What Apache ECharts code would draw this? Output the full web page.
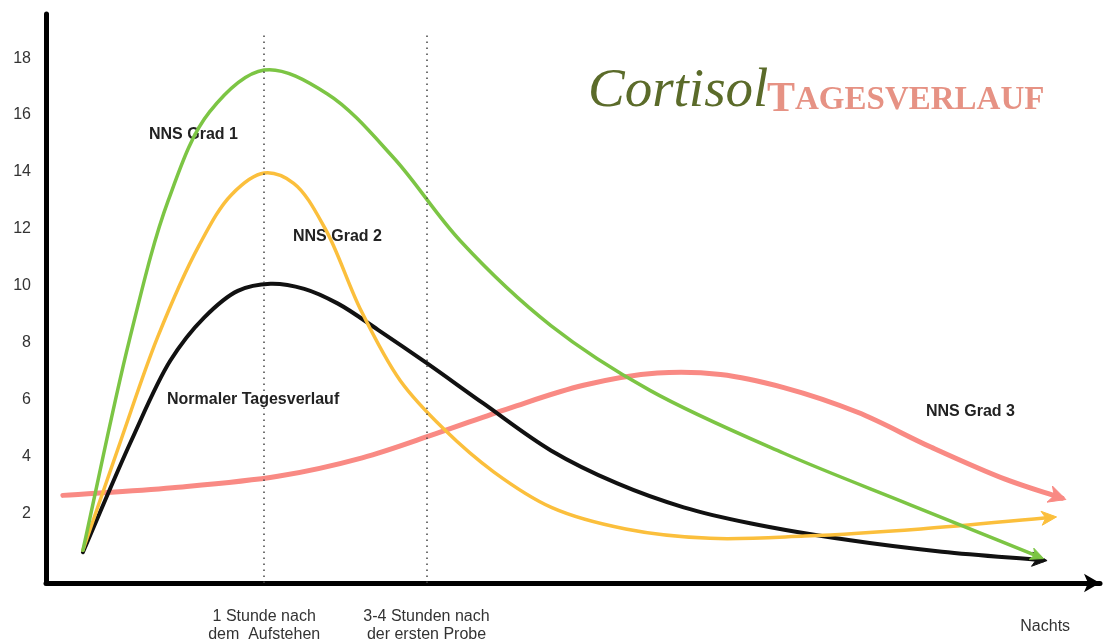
<!DOCTYPE html>
<html>
<head>
<meta charset="utf-8">
<script src="https://cdn.jsdelivr.net/npm/echarts@6/dist/echarts.min.js"></script>
<style>
html,body{margin:0;padding:0;background:#fff;}
#c{width:1104px;height:644px;}
</style>
</head>
<body>
<div id="c"></div>
<script>
// ---- data (x: position along the day, 0..100; y: cortisol level) ----
const grad1 = [[3.5,0.7],[7.9,8.07],[11.6,13.0],[15.5,16.1],[20.7,17.58],[26.7,16.74],[33.0,14.49],[39.3,11.58],[47.9,8.6],[57.3,6.32],[70.0,4.11],[82.0,2.3],[94.3,0.46]];
const grad2 = [[3.5,0.7],[7.1,4.56],[10.6,8.2],[14.5,11.4],[17.6,13.2],[20.7,13.96],[23.5,13.6],[26.5,12.0],[29.9,9.12],[33.6,6.67],[37.7,4.98],[42.5,3.45],[48.0,2.2],[55.0,1.45],[63.0,1.12],[72.0,1.2],[83.0,1.45],[95.5,1.86]];
const normal = [[3.5,0.63],[8.1,4.56],[11.8,7.37],[15.0,8.88],[18.2,9.82],[21.3,10.07],[24.5,9.89],[27.7,9.37],[31.5,8.45],[36.2,7.26],[41.5,5.86],[47.9,4.21],[54.2,3.05],[60.5,2.21],[66.8,1.65],[76.3,1.05],[85.0,0.65],[94.6,0.35]];
const grad3 = [[1.6,2.63],[12.0,2.9],[22.0,3.3],[30.0,3.95],[37.0,4.8],[44.0,5.7],[51.0,6.5],[58.0,6.93],[64.0,6.88],[70.0,6.42],[77.0,5.55],[84.0,4.32],[91.0,3.2],[96.4,2.53]];

const yTicks = [2,4,6,8,10,12,14,16,18];
const xTickValues = [20.7, 36.1, 94.8];
const xTickLabels = ['1 Stunde nach\ndem  Aufstehen', '3-4 Stunden nach\nder ersten Probe', 'Nachts'];
const markerLines = [20.7, 36.1];

const seriesNames = ['NNS Grad 3', 'Normaler Tagesverlauf', 'NNS Grad 2', 'NNS Grad 1'];

// ---- chart ----
const chart = echarts.init(document.getElementById('c'), null, {renderer:'canvas'});
const Y_MIN = -0.45, Y_MAX = 19.55;
const FONT = '"Liberation Sans", Arial, sans-serif';

// centripetal Catmull-Rom -> cubic bezier path through pixel points
function splinePath(px) {
  const n = px.length;
  let d = 'M' + px[0][0] + ' ' + px[0][1];
  let lastC2 = null;
  for (let i = 0; i < n - 1; i++) {
    const p0 = px[i - 1] || px[i], p1 = px[i], p2 = px[i + 1], p3 = px[i + 2] || px[i + 1];
    const l1 = Math.hypot(p1[0]-p0[0], p1[1]-p0[1]);
    const l2 = Math.hypot(p2[0]-p1[0], p2[1]-p1[1]);
    const l3 = Math.hypot(p3[0]-p2[0], p3[1]-p2[1]);
    const a1 = Math.sqrt(l1), a2 = Math.sqrt(l2), a3 = Math.sqrt(l3);
    let c1, c2;
    if (l1 < 1e-6) {
      c1 = [p1[0] + (p2[0]-p1[0])/3, p1[1] + (p2[1]-p1[1])/3];
    } else {
      const den = 3 * a1 * (a1 + a2), k = 2*l1 + 3*a1*a2 + l2;
      c1 = [(l1*p2[0] - l2*p0[0] + k*p1[0]) / den, (l1*p2[1] - l2*p0[1] + k*p1[1]) / den];
    }
    if (l3 < 1e-6) {
      c2 = [p2[0] - (p2[0]-p1[0])/3, p2[1] - (p2[1]-p1[1])/3];
    } else {
      const den = 3 * a3 * (a3 + a2), k = 2*l3 + 3*a3*a2 + l2;
      c2 = [(l3*p1[0] - l2*p3[0] + k*p2[0]) / den, (l3*p1[1] - l2*p3[1] + k*p2[1]) / den];
    }
    d += ' C' + c1[0] + ' ' + c1[1] + ' ' + c2[0] + ' ' + c2[1] + ' ' + p2[0] + ' ' + p2[1];
    lastC2 = c2;
  }
  return {d: d, lastC2: lastC2};
}

function curve(name, data, color, width, arrowLen, arrowW) {
  return {
    name: name, type: 'custom', coordinateSystem: 'cartesian2d',
    data: data, encode: {x: 0, y: 1}, silent: true,
    renderItem: function (params, api) {
      if (params.dataIndex !== 0) return null;
      const px = data.map(p => api.coord(p));
      const sp = splinePath(px);
      const end = px[px.length - 1];
      let ux = end[0] - sp.lastC2[0], uy = end[1] - sp.lastC2[1];
      const L = Math.hypot(ux, uy) || 1; ux /= L; uy /= L;
      const nx = -uy, ny = ux;
      const tip = [end[0] + ux * 4, end[1] + uy * 4];
      const base = [tip[0] - ux * arrowLen, tip[1] - uy * arrowLen];
      const notch = [tip[0] - ux * arrowLen * 0.72, tip[1] - uy * arrowLen * 0.72];
      const left = [base[0] + nx * arrowW / 2, base[1] + ny * arrowW / 2];
      const right = [base[0] - nx * arrowW / 2, base[1] - ny * arrowW / 2];
      return {
        type: 'group',
        children: [
          {type: 'path', shape: {pathData: sp.d}, style: {fill: 'none', stroke: color, lineWidth: width, lineCap: 'round', lineJoin: 'round'}},
          {type: 'polygon', shape: {points: [tip, left, notch, right]}, style: {fill: color, stroke: color, lineWidth: 1}}
        ]
      };
    }
  };
}

const option = {
  backgroundColor: '#ffffff',
  animation: false,
  grid: {left: 46, right: 4, top: 14, bottom: 59},
  xAxis: {
    type: 'value', min: 0, max: 100,
    axisLine: {show: true, onZero: false, symbol: ['none', 'arrow'], symbolSize: [14, 16],
      lineStyle: {color: '#000', width: 5}},
    axisTick: {show: false},
    splitLine: {show: false},
    axisLabel: {
      customValues: xTickValues,
      margin: 25,
      color: '#333', fontSize: 16, lineHeight: 18,
      fontFamily: FONT,
      formatter: function (v) {
        const i = xTickValues.indexOf(v);
        if (i < 0) return '';
        if (i === 2) return '{n|' + xTickLabels[i] + '}';
        return xTickLabels[i];
      },
      rich: {n: {fontSize: 16, color: '#333', padding: [20, 0, 0, 0], fontFamily: FONT}}
    }
  },
  yAxis: {
    type: 'value', min: Y_MIN, max: Y_MAX,
    axisLine: {show: true, onZero: false, lineStyle: {color: '#000', width: 5}},
    axisTick: {show: false},
    splitLine: {show: false},
    axisLabel: {customValues: yTicks, margin: 15, color: '#333', fontSize: 16, fontFamily: FONT}
  },
  series: [
    {
      type: 'line', data: [], silent: true,
      markLine: {
        silent: true, symbol: ['none', 'none'], label: {show: false},
        lineStyle: {color: '#444', width: 1.5, type: [1.5, 4.5]},
        data: markerLines.map(x => [{coord: [x, Y_MIN]}, {coord: [x, 18.92]}])
      }
    },
    curve(seriesNames[0], grad3, '#f98a84', 5, 17, 17),
    curve(seriesNames[1], normal, '#111111', 4, 15, 14),
    curve(seriesNames[2], grad2, '#fbbf3c', 3.5, 15, 14),
    curve(seriesNames[3], grad1, '#7cc544', 3.5, 13, 12)
  ],
  graphic: [
    {type: 'text', left: 149, top: 127, style: {text: 'NNS Grad 1', font: 'bold 16px ' + FONT, fill: '#222'}},
    {type: 'text', left: 293, top: 229, style: {text: 'NNS Grad 2', font: 'bold 16px ' + FONT, fill: '#222'}},
    {type: 'text', left: 167, top: 392, style: {text: 'Normaler Tagesverlauf', font: 'bold 16px ' + FONT, fill: '#222'}},
    {type: 'text', left: 926, top: 404, style: {text: 'NNS Grad 3', font: 'bold 16px ' + FONT, fill: '#222'}},
    {type: 'text', left: 588, top: 64, style: {text: 'Cortisol', font: 'italic 55px "Liberation Serif", "DejaVu Serif", serif', fill: '#5b6b2a'}},
    {type: 'text', left: 767, top: 79, style: {
      text: '{a|T}{b|AGESVERLAUF}',
      rich: {
        a: {font: 'bold 42px "Liberation Serif", serif', fill: '#e69284', color: '#e69284'},
        b: {font: 'bold 33px "Liberation Serif", serif', fill: '#e69284', color: '#e69284'}
      }
    }}
  ]
};
chart.setOption(option);
</script>
</body>
</html>
